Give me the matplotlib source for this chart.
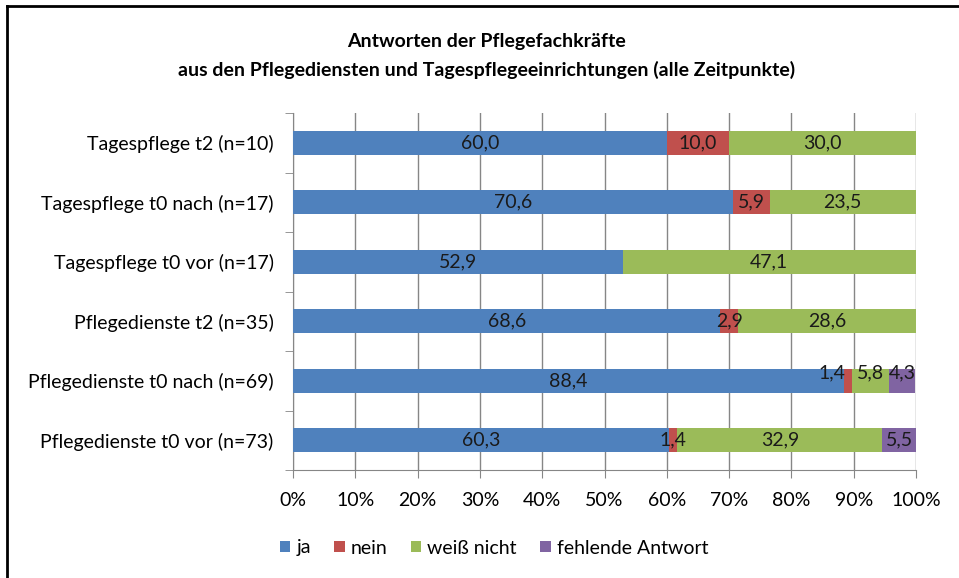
import matplotlib.pyplot as plt
import numpy as np

# data (bottom row first, as drawn)
categories = ['Pflegedienste t0 vor (n=73)', 'Pflegedienste t0 nach (n=69)',
              'Pflegedienste t2 (n=35)', 'Tagespflege t0 vor (n=17)',
              'Tagespflege t0 nach (n=17)', 'Tagespflege t2 (n=10)']
ja = [60.3, 88.4, 68.6, 52.9, 70.6, 60.0]
nein = [1.4, 1.4, 2.9, 0.0, 5.9, 10.0]
weiss_nicht = [32.9, 5.8, 28.6, 47.1, 23.5, 30.0]
fehlend = [5.5, 4.3, 0.0, 0.0, 0.0, 0.0]
series_names = ['ja', 'nein', 'weiß nicht', 'fehlende Antwort']
colors = ['#4F81BD', '#C0504D', '#9BBB59', '#8064A2']
xticks = np.arange(0, 101, 10)

plt.rcParams['font.family'] = ['Lato', 'DejaVu Sans']
fs = 14

fig = plt.figure(figsize=(9.59, 5.78), dpi=100)
ax = fig.add_axes([293/959, 1-470/578, 623/959, 357/578])

y = np.arange(len(categories))
left = np.zeros(len(categories))
all_series = [ja, nein, weiss_nicht, fehlend]
for vals, name, col in zip(all_series, series_names, colors):
    vals = np.array(vals)
    ax.barh(y, vals, left=left, height=0.4, color=col, label=name, zorder=3)
    for i, v in enumerate(vals):
        if v <= 0:
            continue
        xc = left[i] + v/2
        yc = y[i]
        ha = 'center'
        # crowded row: small labels lifted above the bar centre
        if i == 1 and name != 'ja':
            yc = y[i] + 0.13
            if name == 'nein':
                xc = left[i] + 0.2
                ha = 'right'
        ax.text(xc, yc, '{:.1f}'.format(v).replace('.', ','), ha=ha, va='center',
                fontsize=fs, color='#1a1a1a', zorder=4)
    left = left + vals

ax.set_xlim(0, 100)
ax.set_ylim(-0.5, len(categories) - 0.5)
ax.set_xticks(xticks)
ax.set_xticklabels(['{}%'.format(t) for t in xticks], fontsize=fs)
ax.set_yticks(y)
ax.set_yticklabels(categories, fontsize=fs)
ax.set_yticks(np.arange(-0.5, len(categories), 1), minor=True)
ax.tick_params(axis='y', which='major', length=0, pad=14)
ax.tick_params(axis='y', which='minor', length=6, color='#868686')
ax.tick_params(axis='x', length=6, color='#868686', pad=10)
ax.grid(axis='x', color='#868686', linewidth=1, zorder=0)
for s in ['top', 'right']:
    ax.spines[s].set_visible(False)
for s in ['left', 'bottom']:
    ax.spines[s].set_color('#868686')

fig.text(0.507, 1-42/578, 'Antworten der Pflegefachkräfte', ha='center', va='center',
         fontsize=fs, fontweight='bold')
fig.text(0.507, 1-70/578, 'aus den Pflegediensten und Tagespflegeeinrichtungen (alle Zeitpunkte)',
         ha='center', va='center', fontsize=fs, fontweight='bold')

fig.legend(loc='center', bbox_to_anchor=(0.515, 1-548/578), ncol=4, frameon=False,
           fontsize=fs, handlelength=0.55, handleheight=0.55, handletextpad=0.3,
           columnspacing=1.2)

# chart frame, only top and left edges are visible in the crop
fig.add_artist(plt.Line2D([7/959, 7/959], [0, 1-6/578], color='black', lw=2))
fig.add_artist(plt.Line2D([7/959, 1], [1-6/578, 1-6/578], color='black', lw=2))

plt.savefig('out.png', dpi=100)
